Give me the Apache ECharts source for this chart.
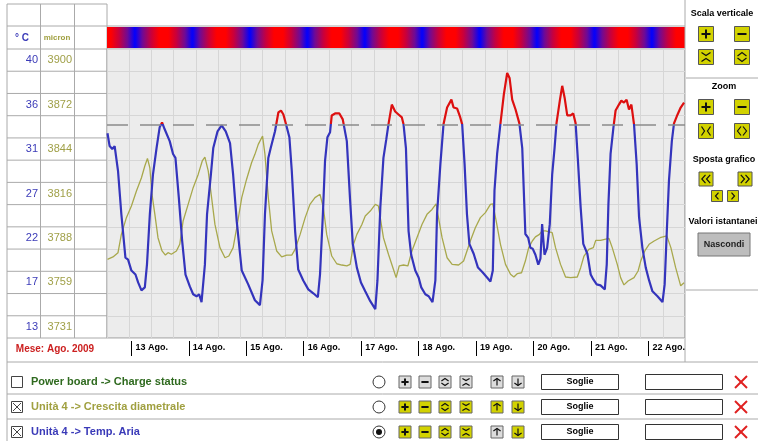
<!DOCTYPE html>
<html><head><meta charset="utf-8">
<script src="https://cdn.jsdelivr.net/npm/echarts@6/dist/echarts.min.js"></script>
<style>html,body{margin:0;padding:0;background:#fff}#c{width:758px;height:441px}</style>
</head><body><div id="c"></div>
<script>
// ---- data (hours since 12 Aug 2009 00:00) ----
const dayHours = [24,48,72,96,120,144,168,192,216,240];
const dayLabels = ['13 Ago.','14 Ago.','15 Ago.','16 Ago.','17 Ago.','18 Ago.','19 Ago.','20 Ago.','21 Ago.','22 Ago.'];
const tempLabels = ['13','','17','','22','','27','','31','','36','','40'];
const micronLabels = ['3731','','3759','','3788','','3816','','3844','','3872','','3900'];
const threshold = 33.5;
const tempData = [[14.0,32.6],[14.9,31.3],[16.0,31.0],[17.0,31.3],[18.4,28.8],[19.8,24.4],[21.5,20.0],[22.6,19.8],[24.0,18.7],[25.7,18.3],[26.8,17.5],[28.2,16.7],[29.6,17.0],[30.5,19.3],[31.7,24.4],[33.0,28.4],[34.5,31.1],[35.8,33.2],[36.8,33.7],[37.9,33.0],[40.0,31.8],[41.4,30.5],[42.4,30.1],[43.8,26.1],[45.2,21.7],[46.6,18.3],[48.4,17.1],[49.8,16.3],[51.2,16.1],[52.3,16.3],[53.3,15.5],[54.1,15.6],[54.7,19.3],[55.6,24.4],[57.2,28.4],[58.2,31.1],[60.0,32.8],[61.7,33.4],[63.4,32.8],[65.2,31.6],[66.5,28.4],[68.0,23.7],[70.1,18.7],[72.8,17.3],[75.6,15.7],[77.7,15.2],[78.8,17.7],[79.8,24.4],[81.2,30.1],[82.2,31.1],[84.0,32.8],[85.4,34.7],[86.5,34.9],[87.5,34.5],[88.6,33.5],[90.0,32.2],[91.0,28.8],[92.4,22.7],[93.7,18.8],[95.8,17.7],[97.9,16.8],[100.0,16.4],[101.9,16.0],[102.8,18.3],[104.0,24.4],[104.9,29.8],[105.9,32.2],[107.0,32.7],[107.7,34.4],[109.1,34.6],[110.9,34.6],[112.3,34.0],[114.0,31.8],[115.4,25.7],[116.5,21.4],[118.2,19.0],[119.9,17.5],[121.7,16.6],[123.8,15.6],[125.9,14.8],[126.8,17.7],[128.0,25.1],[129.3,30.1],[130.5,32.0],[131.4,33.5],[132.8,35.5],[134.2,34.8],[135.6,34.5],[137.0,34.2],[137.7,33.5],[138.7,31.1],[139.8,22.7],[140.9,20.3],[142.6,18.7],[144.0,18.0],[145.1,17.0],[146.8,16.3],[148.2,16.1],[149.8,15.5],[151.0,17.7],[151.7,24.4],[153.1,29.5],[154.4,33.5],[155.9,35.2],[157.7,36.0],[158.6,35.2],[160.1,35.1],[161.4,34.2],[162.2,33.5],[163.2,29.5],[164.2,24.4],[165.2,21.4],[167.0,20.4],[168.8,19.0],[170.8,18.5],[172.6,18.0],[174.0,17.6],[175.0,18.7],[175.7,26.8],[176.8,30.5],[178.2,33.6],[179.6,36.5],[181.0,38.7],[182.0,38.2],[183.1,36.0],[184.5,35.0],[186.1,33.6],[187.3,31.1],[188.6,22.4],[189.8,22.0],[190.7,21.0],[191.7,20.9],[192.8,20.3],[194.0,19.3],[194.9,19.9],[195.6,23.4],[196.6,20.3],[197.7,21.0],[198.8,23.4],[199.8,28.4],[200.8,31.1],[201.6,33.6],[203.0,35.9],[204.0,37.4],[205.0,36.2],[206.1,34.4],[207.5,34.4],[208.6,34.6],[209.6,33.6],[210.5,30.1],[211.7,25.1],[212.8,21.4],[214.5,20.4],[215.9,18.3],[217.0,17.8],[218.4,17.3],[220.0,17.2],[221.8,16.8],[222.6,19.3],[223.3,25.4],[224.2,30.5],[225.4,33.2],[226.3,34.9],[227.7,35.5],[228.7,35.9],[229.8,35.7],[230.9,36.0],[231.9,35.0],[232.9,35.5],[234.0,33.5],[235.1,29.5],[236.1,24.1],[237.5,21.0],[238.9,19.0],[240.3,17.7],[241.7,16.6],[243.8,16.1],[244.9,15.8],[245.9,15.5],[246.8,17.3],[247.7,22.7],[248.6,27.8],[249.8,31.8],[250.7,33.6],[252.2,34.5],[253.5,35.2],[254.9,35.7]];
const micronData = [[14.0,3773.8],[16.3,3775.3],[18.4,3778.0],[19.8,3789.6],[21.9,3800.2],[24.0,3807.6],[26.1,3817.1],[28.2,3825.5],[29.6,3832.9],[30.7,3837.7],[31.7,3831.8],[32.6,3814.9],[33.8,3802.3],[35.1,3787.5],[36.8,3779.1],[38.2,3776.5],[39.3,3778.0],[40.7,3777.0],[42.8,3779.1],[44.2,3783.3],[45.6,3798.1],[47.7,3808.6],[49.8,3819.2],[51.9,3827.6],[53.6,3836.1],[54.7,3838.6],[56.1,3829.8],[57.5,3812.9],[58.9,3795.9],[61.0,3781.2],[63.1,3774.8],[64.7,3775.9],[66.5,3781.2],[68.0,3793.8],[70.1,3812.9],[72.1,3824.4],[74.2,3835.0],[75.6,3840.3],[77.0,3846.6],[78.8,3851.9],[79.8,3840.3],[81.2,3812.9],[82.6,3791.8],[84.7,3779.1],[86.8,3775.3],[88.9,3776.5],[91.0,3776.5],[92.4,3780.1],[94.5,3789.6],[96.6,3800.2],[98.6,3808.6],[100.7,3812.9],[102.8,3815.0],[104.2,3806.5],[105.6,3789.6],[107.7,3775.9],[109.8,3771.0],[111.9,3770.2],[114.0,3769.6],[115.4,3770.6],[116.8,3783.3],[118.2,3789.6],[120.3,3795.9],[121.7,3801.3],[123.8,3804.4],[125.9,3808.6],[127.2,3807.6],[129.3,3787.5],[131.4,3777.0],[133.5,3767.4],[134.6,3762.2],[135.9,3769.6],[137.7,3770.2],[139.5,3769.6],[141.2,3779.1],[143.3,3787.5],[145.4,3795.9],[147.5,3802.3],[149.6,3805.4],[151.3,3809.0],[152.3,3800.2],[153.8,3787.5],[155.9,3774.8],[158.0,3770.6],[160.7,3770.2],[162.8,3772.7],[164.2,3779.1],[165.6,3785.4],[167.7,3793.8],[169.8,3800.2],[171.9,3803.4],[174.0,3808.6],[175.0,3809.0],[176.4,3798.1],[178.2,3783.3],[180.3,3770.6],[182.4,3764.3],[183.8,3762.6],[185.2,3764.7],[187.0,3765.3],[188.6,3772.7],[190.0,3781.2],[191.5,3785.4],[192.8,3788.0],[194.5,3789.6],[195.6,3791.8],[197.0,3791.8],[199.8,3790.7],[201.2,3781.2],[203.3,3770.6],[205.4,3762.6],[207.5,3762.2],[210.3,3762.6],[211.7,3768.5],[213.1,3775.9],[215.1,3780.1],[217.0,3781.2],[218.0,3785.8],[220.0,3785.8],[223.5,3787.1],[224.9,3781.2],[227.0,3770.6],[228.4,3762.2],[229.8,3757.6],[231.5,3760.1],[234.0,3762.2],[235.7,3766.4],[236.8,3772.7],[238.5,3779.1],[240.3,3783.3],[242.4,3785.4],[244.9,3787.5],[247.7,3788.6],[249.4,3781.2],[251.4,3768.5],[253.5,3757.0],[254.9,3759.0]];

// ---- layout ----
const X_MIN = 13.8, X_MAX = 255.3;
const GL = 107, GT = 49, GR = 685, GB = 338;
const FONT = '"Liberation Sans", Arial, sans-serif';
const G = [];
function line(x1,y1,x2,y2,c,w){G.push({type:'line',silent:true,shape:{x1,y1,x2,y2},style:{stroke:c||'#aaa',lineWidth:w||1}});}
function poly(pts,c,w){G.push({type:'polyline',silent:true,shape:{points:pts},style:{stroke:c||'#111',lineWidth:w||1.2,fill:null}});}
function rect(x,y,w,h,fill,stroke,lw){G.push({type:'rect',silent:true,shape:{x,y,width:w,height:h},style:{fill:fill,stroke:stroke||null,lineWidth:lw||1}});}
function circ(cx,cy,r,fill,stroke){G.push({type:'circle',silent:true,shape:{cx,cy,r},style:{fill:fill,stroke:stroke||null,lineWidth:1}});}
function text(x,y,t,o){G.push({type:'text',silent:true,x:x,y:y,style:Object.assign({text:t,fontFamily:FONT,fontWeight:'bold',fontSize:9,fill:'#000',align:'center',verticalAlign:'middle'},o||{})});}
const YEL='#d2d200', GRY='#dcdcdc';
function btn(cx,cy,s,sym,fill,stroke){
  const l=cx-s/2,t=cy-s/2,r=cx+s/2,b=cy+s/2,m=s*0.2,c='#111';
  rect(l,t,s,s,fill,stroke||'#555',1);
  if(sym==='+'){line(l+m,cy,r-m,cy,c,2);line(cx,t+m,cx,b-m,c,2);}
  else if(sym==='-'){line(l+m,cy,r-m,cy,c,2);}
  else if(sym==='vin'){poly([[l+m,t+m],[cx,cy-1.5],[r-m,t+m]],c);poly([[l+m,b-m],[cx,cy+1.5],[r-m,b-m]],c);}
  else if(sym==='vout'){poly([[l+m,cy-1],[cx,t+m],[r-m,cy-1]],c);poly([[l+m,cy+1],[cx,b-m],[r-m,cy+1]],c);}
  else if(sym==='hin'){poly([[l+m,t+m],[cx-1.5,cy],[l+m,b-m]],c);poly([[r-m,t+m],[cx+1.5,cy],[r-m,b-m]],c);}
  else if(sym==='hout'){poly([[cx-1,t+m],[l+m,cy],[cx-1,b-m]],c);poly([[cx+1,t+m],[r-m,cy],[cx+1,b-m]],c);}
  else if(sym==='<<'){poly([[cx-0.5,t+m],[l+m,cy],[cx-0.5,b-m]],c);poly([[r-m,t+m],[cx+0.5,cy],[r-m,b-m]],c);}
  else if(sym==='>>'){poly([[l+m,t+m],[cx-0.5,cy],[l+m,b-m]],c);poly([[cx+0.5,t+m],[r-m,cy],[cx+0.5,b-m]],c);}
  else if(sym==='<'){poly([[cx+1.5,t+m],[cx-1.5,cy],[cx+1.5,b-m]],c);}
  else if(sym==='>'){poly([[cx-1.5,t+m],[cx+1.5,cy],[cx-1.5,b-m]],c);}
  else if(sym==='up'){line(cx,t+m,cx,b-m,c,1.2);poly([[l+m,cy-1],[cx,t+m],[r-m,cy-1]],c);}
  else if(sym==='down'){line(cx,t+m,cx,b-m,c,1.2);poly([[l+m,cy+1],[cx,b-m],[r-m,cy+1]],c);}
}

// left table
const rowH = (GB-GT)/13;
line(7,4,107,4);
line(7,26,GR,26);
for(let i=0;i<=13;i++) line(7,GT+i*rowH,GL,GT+i*rowH);
line(7,4,7,441); line(40.5,4,40.5,GB); line(74.5,4,74.5,GB); line(GL,4,GL,GB);
text(22,38,'° C',{fill:'#3b3bb8',fontSize:10});
text(57,38,'micron',{fill:'#a0a040',fontSize:8});
text(55,349,'Mese: Ago. 2009',{fill:'#cc2020',fontSize:10});

// colour band
function mix(a,b,t){return a.map((v,i)=>Math.round(v+(b[i]-v)*t));}
const bandKeys=[[0,[0,0,255]],[0.13,[110,10,150]],[0.28,[200,0,60]],[0.42,[255,0,0]],[0.58,[255,0,0]],[0.72,[200,0,60]],[0.87,[110,10,150]],[1,[0,0,255]]];
function bandColor(p){for(let i=1;i<bandKeys.length;i++){if(p<=bandKeys[i][0]){const a=bandKeys[i-1],b=bandKeys[i];const c=mix(a[1],b[1],(p-a[0])/(b[0]-a[0]));return 'rgb('+c.join(',')+')';}}return 'rgb(0,0,255)';}
const stops=[];
for(let h=X_MIN;h<=X_MAX;h+=0.5){const p=((((h-1.5)%24)+24)%24)/24;stops.push({offset:Math.min(1,(h-X_MIN)/(X_MAX-X_MIN)),color:bandColor(p)});}
G.push({type:'rect',silent:true,shape:{x:GL,y:27,width:GR-GL,height:21},style:{fill:{type:'linear',x:0,y:0,x2:1,y2:0,colorStops:stops},stroke:null}});

// right panel
line(GR,0,GR,362); line(GR,78,758,78); line(GR,290,758,290);
text(722,14,'Scala verticale');
btn(706,34,15,'+',YEL); btn(742,34,15,'-',YEL); btn(706,57,15,'vin',YEL); btn(742,57,15,'vout',YEL);
text(724,87,'Zoom');
btn(706,107,15,'+',YEL); btn(742,107,15,'-',YEL); btn(706,131,15,'hin',YEL); btn(742,131,15,'hout',YEL);
text(724,160,'Sposta grafico');
btn(706,179,14,'<<',YEL); btn(745,179,14,'>>',YEL); btn(717,196,11,'<',YEL); btn(733,196,11,'>',YEL);
text(723,222,'Valori istantanei');
rect(698,233,52,23,'#bdbdbd','#777',1);
text(724,244.5,'Nascondi',{fill:'#222'});

// bottom rows
line(7,362,758,362); line(7,394,758,394); line(7,419,758,419);
const rows=[
  {y:382,label:'Power board -> Charge status',color:'#2f6a1f',checked:false,radio:false,bf:[GRY,GRY,GRY,GRY,GRY,GRY]},
  {y:407,label:'Unità 4 -> Crescita diametrale',color:'#a0a040',checked:true,radio:false,bf:[YEL,YEL,YEL,YEL,YEL,YEL]},
  {y:432,label:'Unità 4 -> Temp. Aria',color:'#3a3ab8',checked:true,radio:true,bf:[YEL,YEL,YEL,YEL,GRY,YEL]}
];
rows.forEach(r=>{
  rect(11.5,r.y-5.5,11,11,'#fff','#444',1);
  if(r.checked){line(13,r.y-4,21,r.y+4,'#444',1);line(21,r.y-4,13,r.y+4,'#444',1);}
  text(31,r.y,r.label,{fill:r.color,fontSize:11,align:'left'});
  circ(379,r.y,6,'#fff','#333');
  if(r.radio) circ(379,r.y,3,'#111');
  const syms=['+','-','vout','vin','up','down'], xs=[405,425,445,466,497,518];
  syms.forEach((s,i)=>btn(xs[i],r.y,12,s,r.bf[i],'#666'));
  rect(541.5,r.y-7.5,77,15,'#fff','#333',1);
  text(580,r.y,'Soglie');
  rect(645.5,r.y-7.5,77,15,'#fff','#333',1);
  line(735,r.y-6,747,r.y+6,'#e02020',2); line(747,r.y-6,735,r.y+6,'#e02020',2);
});

const option = {
  animation:false,
  textStyle:{fontFamily:FONT},
  grid:{left:GL,top:GT,right:758-GR,bottom:441-GB,show:true,backgroundColor:'#ececec',borderColor:'#999',borderWidth:1},
  xAxis:[
    {type:'value',min:X_MIN,max:X_MAX,offset:3,axisLine:{show:false},splitLine:{show:false},
     axisTick:{show:true,customValues:dayHours,length:15,lineStyle:{color:'#000',width:1}},
     axisLabel:{customValues:dayHours,formatter:v=>dayLabels[dayHours.indexOf(v)],align:'left',verticalAlign:'middle',margin:7,padding:[0,0,0,4],fontWeight:'bold',fontSize:9,color:'#000'}},
    {type:'value',min:0,max:26,interval:1,axisLine:{show:false},axisTick:{show:false},axisLabel:{show:false},splitLine:{show:true,lineStyle:{color:'#d6d6d6',width:1}}}
  ],
  yAxis:[
    {type:'value',min:11.875,max:41.125,show:false},
    {type:'value',min:3723.96,max:3907.04,show:false},
    {type:'category',data:tempLabels,position:'left',offset:66,boundaryGap:true,axisLine:{show:false},axisTick:{show:false},
     axisLabel:{interval:0,margin:3,color:'#3b3bb8',fontSize:11},splitLine:{show:true,interval:0,lineStyle:{color:'#d6d6d6',width:1}}},
    {type:'category',data:micronLabels,position:'left',offset:32,boundaryGap:true,axisLine:{show:false},axisTick:{show:false},
     axisLabel:{interval:0,margin:3,color:'#a0a048',fontSize:11},splitLine:{show:false}}
  ],
  visualMap:{type:'piecewise',show:false,seriesIndex:1,dimension:1,min:0,max:60,
    pieces:[{min:0,max:threshold,color:'#3434bc'},{min:threshold,max:60,color:'#dd1010'}]},
  series:[
    {name:'Unità 4 -> Crescita diametrale',type:'line',xAxisIndex:0,yAxisIndex:1,data:micronData,showSymbol:false,
     lineStyle:{color:'#a8a84c',width:1.3},itemStyle:{color:'#a8a84c'},z:2},
    {name:'Unità 4 -> Temp. Aria',type:'line',xAxisIndex:0,yAxisIndex:0,data:tempData,showSymbol:false,
     lineStyle:{width:2.2},z:3,
     markLine:{silent:true,symbol:'none',label:{show:false},lineStyle:{color:'#8a8a8a',type:[21,12],width:1.5},data:[{yAxis:threshold}]}}
  ],
  graphic:G
};
const chart = echarts.init(document.getElementById('c'));
chart.setOption(option);
</script></body></html>
